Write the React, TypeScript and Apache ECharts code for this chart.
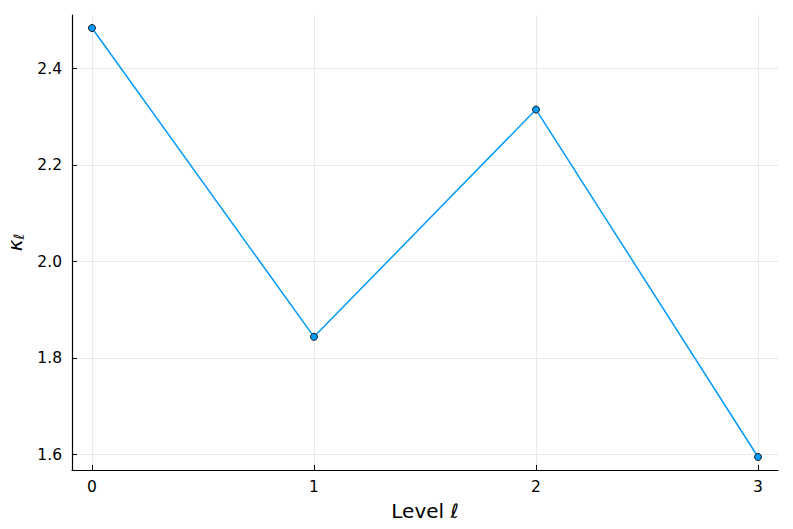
import React, { useEffect, useRef } from "react";
import * as echarts from "echarts";

const levels = [0, 1, 2, 3];
const kappa = [2.484, 1.844, 2.315, 1.595];
const xTicks = [0, 1, 2, 3];
const yTicks = [1.6, 1.8, 2.0, 2.2, 2.4];

export default function App() {
  const ref = useRef<HTMLDivElement>(null);
  useEffect(() => {
    const chart = echarts.init(ref.current!, null, { renderer: "svg" });
    const font = "DejaVu Sans";
    chart.setOption({
      animation: false,
      backgroundColor: "#ffffff",
      grid: { left: 72, right: 15, top: 15, bottom: 59, containLabel: false, outerBoundsMode: "none" },
      xAxis: {
        type: "value",
        min: -0.09,
        max: 3.09,
        name: "Level ℓ",
        nameLocation: "middle",
        nameGap: 31,
        nameTextStyle: { fontFamily: font, fontSize: 20, color: "#000" },
        axisLine: { show: true, onZero: false, lineStyle: { color: "#000", width: 1.2 } },
        axisTick: { show: true, inside: true, length: 5, customValues: xTicks, lineStyle: { color: "#000" } },
        axisLabel: { customValues: xTicks, fontFamily: font, fontSize: 15.5, color: "#000", margin: 9 },
        splitLine: { show: true, lineStyle: { color: "#e9e9e9", width: 1 } },
      },
      yAxis: {
        type: "value",
        min: 1.568,
        max: 2.511,
        name: "{k|κ}{s|ℓ}",
        nameLocation: "middle",
        nameRotate: 90,
        nameGap: 46,
        nameTextStyle: {
          fontFamily: font,
          color: "#000",
          rich: {
            k: { fontFamily: font, fontSize: 20, fontStyle: "italic", color: "#000" },
            s: { fontFamily: font, fontSize: 14, fontStyle: "italic", color: "#000", verticalAlign: "bottom", padding: [8, 0, 0, 0] },
          },
        },
        axisLine: { show: true, onZero: false, lineStyle: { color: "#000", width: 1.2 } },
        axisTick: { show: true, inside: true, length: 5, customValues: yTicks, lineStyle: { color: "#000" } },
        axisLabel: {
          customValues: yTicks,
          fontFamily: font,
          fontSize: 15.5,
          color: "#000",
          margin: 10,
          formatter: (v: number) => v.toFixed(1),
        },
        splitLine: { show: true, lineStyle: { color: "#e9e9e9", width: 1 } },
      },
      series: [
        {
          type: "line",
          data: levels.map((x, i) => [x, kappa[i]]),
          symbol: "circle",
          symbolSize: 7,
          lineStyle: { color: "#009afa", width: 1.5 },
          itemStyle: { color: "#009afa", borderColor: "#1a1a1a", borderWidth: 1 },
        },
      ],
    });
    return () => chart.dispose();
  }, []);
  return <div ref={ref} style={{ width: 793, height: 529, position: "absolute", left: 0, top: 0 }} />;
}
